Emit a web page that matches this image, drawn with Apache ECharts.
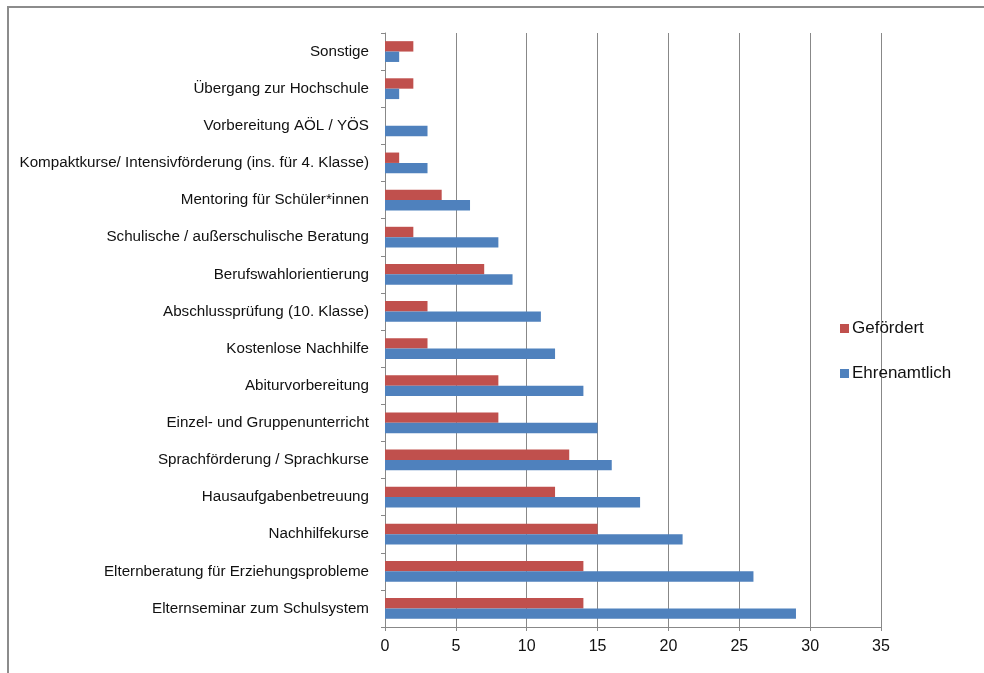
<!DOCTYPE html>
<html>
<head>
<meta charset="utf-8">
<script src="https://cdn.jsdelivr.net/npm/echarts@6/dist/echarts.min.js"></script>
<style>
html, body { margin: 0; padding: 0; background: #fff; }
#chart { width: 984px; height: 673px; }
</style>
</head>
<body>
<div id="chart"></div>
<script>
// Kategorien von unten nach oben
var categories = [
    'Elternseminar zum Schulsystem',
    'Elternberatung für Erziehungsprobleme',
    'Nachhilfekurse',
    'Hausaufgabenbetreuung',
    'Sprachförderung / Sprachkurse',
    'Einzel- und Gruppenunterricht',
    'Abiturvorbereitung',
    'Kostenlose Nachhilfe',
    'Abschlussprüfung (10. Klasse)',
    'Berufswahlorientierung',
    'Schulische / außerschulische Beratung',
    'Mentoring für Schüler*innen',
    'Kompaktkurse/ Intensivförderung (ins. für 4. Klasse)',
    'Vorbereitung AÖL / YÖS',
    'Übergang zur Hochschule',
    'Sonstige'
];
var gefoerdert = [14, 14, 15, 12, 13, 8, 8, 3, 3, 7, 2, 4, 1, 0, 2, 2];
var ehrenamtlich = [29, 26, 21, 18, 16, 15, 14, 12, 11, 9, 8, 6, 3, 3, 1, 1];
var xTicks = { min: 0, max: 35, interval: 5 };

var myChart = echarts.init(document.getElementById('chart'));
var font = 'Liberation Sans, Arial, sans-serif';
var option = {
    animation: false,
    textStyle: { fontFamily: font },
    graphic: [{
        type: 'rect',
        shape: { x: 8, y: 7, width: 1000, height: 700 },
        style: { fill: 'none', stroke: '#8c8c8c', lineWidth: 2 },
        silent: true
    }],
    legend: {
        orient: 'vertical',
        left: 835,
        top: 315,
        itemGap: 28,
        itemWidth: 9,
        itemHeight: 9,
        icon: 'rect',
        data: ['Gefördert', 'Ehrenamtlich'],
        textStyle: { fontSize: 17, color: '#111', fontFamily: font, padding: [0, 0, 0, -2] }
    },
    grid: {
        left: 385,
        right: 103,
        top: 33,
        bottom: 46,
        containLabel: false
    },
    xAxis: {
        type: 'value',
        min: xTicks.min,
        max: xTicks.max,
        interval: xTicks.interval,
        axisLine: { show: true, lineStyle: { color: '#888' } },
        axisTick: { show: true, length: 4, lineStyle: { color: '#888' } },
        axisLabel: { fontSize: 16, color: '#111', margin: 12 },
        splitLine: { show: true, lineStyle: { color: '#888' } }
    },
    yAxis: {
        type: 'category',
        data: categories,
        axisLine: { show: true, lineStyle: { color: '#888' } },
        axisTick: { show: true, length: 4, lineStyle: { color: '#888' } },
        axisLabel: { fontSize: 15.2, color: '#111', margin: 16 }
    },
    series: [{
        name: 'Gefördert',
        type: 'bar',
        data: gefoerdert,
        barGap: '0%',
        barCategoryGap: '44%',
        itemStyle: { color: '#C0504D' }
    }, {
        name: 'Ehrenamtlich',
        type: 'bar',
        data: ehrenamtlich,
        barGap: '0%',
        barCategoryGap: '44%',
        itemStyle: { color: '#4F81BD' }
    }]
};
myChart.setOption(option);
</script>
</body>
</html>
